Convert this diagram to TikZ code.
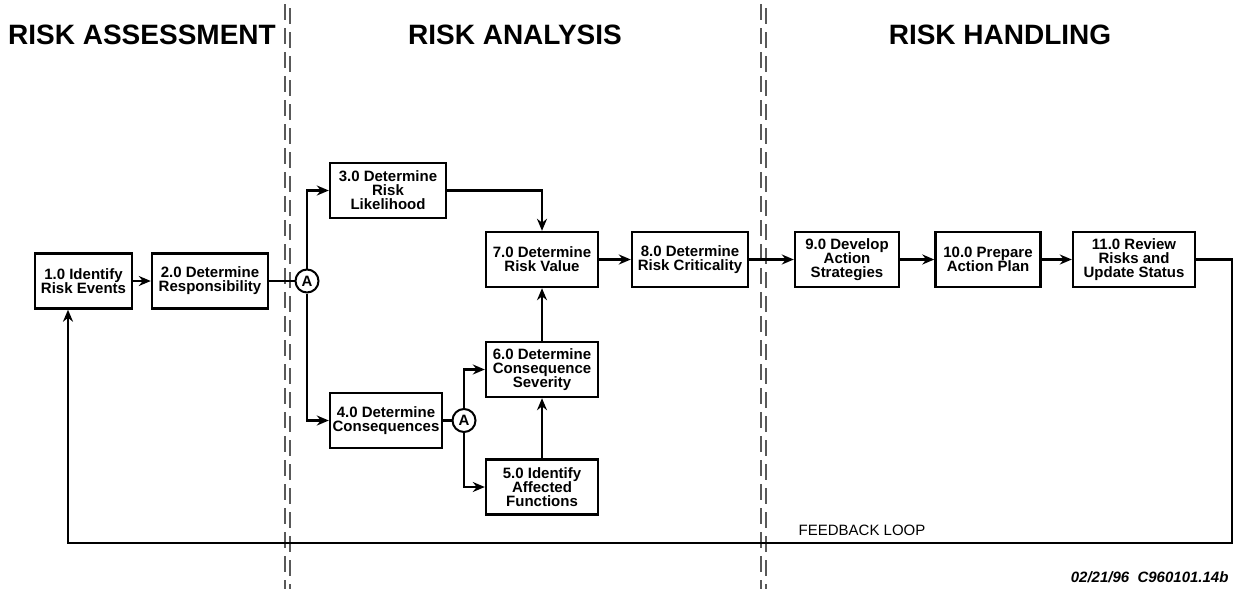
\documentclass[tikz,border=0pt]{standalone}
\usepackage{fontspec}
\setmainfont{Liberation Sans}
\usetikzlibrary{arrows.meta,calc,positioning}

\begin{document}
\begin{tikzpicture}
  [
    x=1pt, y=-1pt,
    proc/.style =
      {draw, rectangle, line width=2.4pt, align=center, inner sep=1pt,
       minimum height=55pt, font=\fontsize{15}{14}\selectfont\bfseries},
    junc/.style =
      {draw, circle, line width=2pt, minimum size=23pt, inner sep=0pt,
       font=\fontsize{15}{15}\selectfont\bfseries},
    link/.style =
      {line width=2.2pt},
    farrow/.style =
      {->, >={Stealth[length=12pt,width=10pt]}, line width=2.2pt},
    phase/.style =
      {font=\fontsize{28}{30}\selectfont\bfseries},
    divider/.style =
      {line width=1.4pt, dash pattern=on 16pt off 8pt, black!65}
  ]

\useasboundingbox (0,0) rectangle (1241,589);

% phase titles and dividers
\node[phase] (tass) at (142,35) {RISK ASSESSMENT};
\node[phase] (tana) at (515,35) {RISK ANALYSIS};
\node[phase] (than) at (1000,35) {RISK HANDLING};

\draw[divider] (285,4) -- (285,589);
\draw[divider] (290,8) -- (290,589);
\draw[divider] (761,4) -- (761,589);
\draw[divider] (766,8) -- (766,589);

% process boxes
\node[proc, minimum width=97pt]  (p1)  at (83.5,281)   {1.0 Identify\\Risk Events};
\node[proc, minimum width=116pt] (p2)  at (210,281)    {2.0 Determine\\Responsibility};
\node[junc]                      (a1)  at (307,281)    {A};
\node[proc, minimum width=116pt] (p3)  at (388,190.5)  {3.0 Determine\\Risk\\Likelihood};
\node[proc, minimum width=112pt] (p4)  at (386,420.5)  {4.0 Determine\\Consequences};
\node[junc]                      (a2)  at (464,420.5)  {A};
\node[proc, minimum width=112pt] (p6)  at (542,369.5)  {6.0 Determine\\Consequence\\Severity};
\node[proc, minimum width=112pt] (p5)  at (542,487)    {5.0 Identify\\Affected\\Functions};
\node[proc, minimum width=112pt] (p7)  at (542,259.5)  {7.0 Determine\\Risk Value};
\node[proc, minimum width=116pt] (p8)  at (690,259.5)  {8.0 Determine\\Risk Criticality};
\node[proc, minimum width=104pt] (p9)  at (847,259.5)  {9.0 Develop\\Action\\Strategies};
\node[proc, minimum width=105pt] (p10) at (988,259.5)  {10.0 Prepare\\Action Plan};
\node[proc, minimum width=122pt] (p11) at (1134,259.5) {11.0 Review\\Risks and\\Update Status};

% flow
\draw[farrow] (p1) -- (p2);
\draw[link]   (p2) -- (a1);
\draw[farrow] (a1.north) |- (p3.west);
\draw[farrow] (a1.south) |- (p4.west);
\draw[link]   (p4) -- (a2);
\draw[farrow] (a2.north) |- (p6.west);
\draw[farrow] (a2.south) |- (p5.west);
\draw[farrow] (p5) -- (p6);
\draw[farrow] (p6) -- (p7);
\draw[farrow] (p3.east) -| (p7.north);
\draw[farrow] (p7) -- (p8);
\draw[farrow] (p8) -- (p9);
\draw[farrow] (p9) -- (p10);
\draw[farrow] (p10) -- (p11);

% feedback loop
\coordinate (fbr) at (1232,543);
\coordinate (fbl) at (68,543);
\draw[farrow] (p11.east) -| (fbr) -- (fbl) -- (fbl |- p1.south);
\node[font=\fontsize{15}{15}\selectfont] (fbtext) at (862,530) {FEEDBACK LOOP};

\node[anchor=east, font=\fontsize{15}{15}\selectfont\bfseries\itshape] (stamp)
  at (1232,577) {02/21/96\ \ C960101.14b};

\end{tikzpicture}
\end{document}
